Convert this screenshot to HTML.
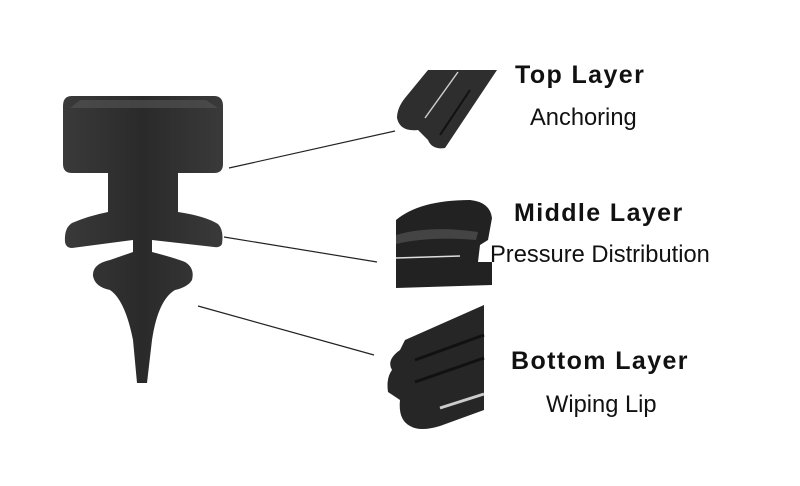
<!DOCTYPE html>
<html><head><style>
html,body{margin:0;padding:0;background:#fff;}
svg{display:block;}
text{font-family:"Liberation Sans",Arial,sans-serif;fill:#111;}
</style></head><body>
<svg width="800" height="486" viewBox="0 0 800 486" xmlns="http://www.w3.org/2000/svg">
<defs>
<linearGradient id="g1" x1="0" x2="1"><stop offset="0" stop-color="#3a3a3a"/><stop offset="0.5" stop-color="#2a2a2a"/><stop offset="1" stop-color="#3a3a3a"/></linearGradient>
</defs>
<g fill="url(#g1)">
<path d="M72 96 H214 Q223 96 223 106 V164 Q223 173 214 173 H178 V212 Q205 216 218 224 Q224 230 222 244 Q220 248 214 247 L152 240 V252 Q175 258 185 262 Q195 268 192 280 Q188 287 175 290 Q158 300 152 340 L147 383 H137 L133 340 Q125 300 110 290 Q95 287 93 276 Q92 264 110 260 L133 252 V240 L72 248 Q66 248 65 242 Q64 228 72 223 Q88 216 108 212 V173 H72 Q63 173 63 164 V106 Q63 96 72 96 Z"/>
</g>
<path d="M80 100 H206 L218 108 H70 Z" fill="#555" opacity="0.6"/>
<g stroke="#222" stroke-width="1.2">
<line x1="229" y1="168" x2="395" y2="131"/>
<line x1="224" y1="237" x2="377" y2="262"/>
<line x1="198" y1="306" x2="374" y2="355"/>
</g>
<path d="M428 70 H497 L445 148 Q432 150 428 140 L418 130 Q400 132 397 118 Q397 108 405 98 Z" fill="#2e2e2e"/>
<line x1="458" y1="72" x2="425" y2="118" stroke="#ccc" stroke-width="1.5"/>
<line x1="470" y1="90" x2="440" y2="135" stroke="#111" stroke-width="2"/>
<path d="M396 220 Q420 200 470 200 Q490 202 492 218 L488 240 L480 245 L478 262 H492 V285 L396 288 Z" fill="#222"/>
<path d="M396 235 Q430 225 478 232 L476 240 Q430 236 396 244 Z" fill="#444"/>
<line x1="396" y1="258" x2="460" y2="256" stroke="#ddd" stroke-width="1.5"/>
<path d="M405 340 L484 305 V410 L440 426 Q420 432 410 426 Q398 420 400 400 L388 392 Q386 378 392 370 Q386 360 400 350 Z" fill="#262626"/>
<line x1="415" y1="360" x2="484" y2="335" stroke="#111" stroke-width="3"/>
<line x1="415" y1="382" x2="484" y2="358" stroke="#111" stroke-width="3"/>
<line x1="440" y1="408" x2="484" y2="394" stroke="#ccc" stroke-width="3"/>
<g font-size="25" font-weight="bold" letter-spacing="1.4">
<text x="515" y="83">Top Layer</text>
<text x="514" y="221">Middle Layer</text>
<text x="511" y="369">Bottom Layer</text>
</g>
<g font-size="23.7">
<text x="530" y="125">Anchoring</text>
<text x="490" y="262">Pressure Distribution</text>
<text x="546" y="412">Wiping Lip</text>
</g>
</svg>
</body></html>
